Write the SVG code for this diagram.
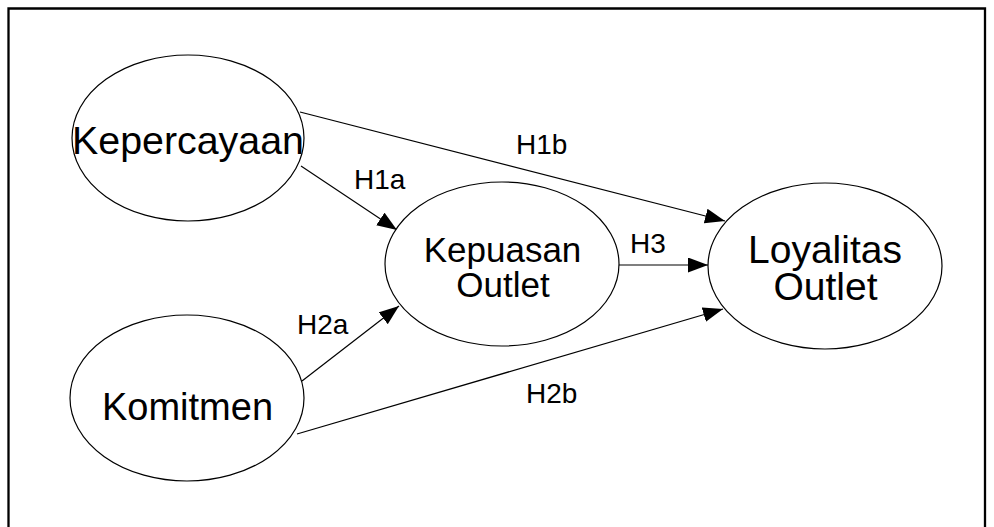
<svg xmlns="http://www.w3.org/2000/svg" width="994" height="527" viewBox="0 0 994 527">
<style>
.node ellipse{fill:#fff;stroke:#000;stroke-width:1.2}
.nt{font-family:"Liberation Sans",Arial,sans-serif;fill:#000;text-anchor:middle}
.lbl{font-family:"Liberation Sans",Arial,sans-serif;font-size:28px;fill:#000}
.edge{stroke:#000;stroke-width:1.2;fill:none;marker-end:url(#arr)}
</style>
<defs>
<marker id="arr" markerUnits="userSpaceOnUse" markerWidth="21" markerHeight="16" refX="20" refY="7.5" orient="auto">
<path d="M0,0 L20,7.5 L0,15 Z" fill="#000"/>
</marker>
</defs>
<rect width="994" height="527" fill="#fff"/>
<path d="M8.5,527 V8.5 H985 V527" fill="none" stroke="#000" stroke-width="2.3"/>
<g id="connectors">
<line class="edge" x1="300" y1="112" x2="725" y2="221"/>
<line class="edge" x1="301" y1="166" x2="397" y2="230"/>
<line class="edge" x1="302" y1="381" x2="399" y2="306"/>
<line class="edge" x1="297" y1="434" x2="723" y2="309"/>
<line class="edge" x1="619" y1="265" x2="708" y2="265"/>
</g>
<g id="labels">
<text class="lbl" x="354" y="189">H1a</text>
<text class="lbl" x="516" y="154">H1b</text>
<text class="lbl" x="297" y="334">H2a</text>
<text class="lbl" x="526" y="403">H2b</text>
<text class="lbl" x="630" y="253">H3</text>
</g>
<g id="kepercayaan" class="node">
<ellipse cx="188" cy="138" rx="116" ry="83"/>
<text class="nt" x="188" y="154" font-size="39" textLength="232" lengthAdjust="spacingAndGlyphs">Kepercayaan</text>
</g>
<g id="komitmen" class="node">
<ellipse cx="187" cy="398" rx="117" ry="83"/>
<text class="nt" x="187.5" y="420" font-size="38">Komitmen</text>
</g>
<g id="kepuasan" class="node">
<ellipse cx="502" cy="264" rx="117" ry="82"/>
<text class="nt" x="502.5" y="262" font-size="35">Kepuasan</text>
<text class="nt" x="503" y="297" font-size="35">Outlet</text>
</g>
<g id="loyalitas" class="node">
<ellipse cx="825" cy="266" rx="117" ry="83"/>
<text class="nt" x="825" y="263" font-size="39">Loyalitas</text>
<text class="nt" x="825.5" y="300" font-size="39">Outlet</text>
</g>
</svg>
